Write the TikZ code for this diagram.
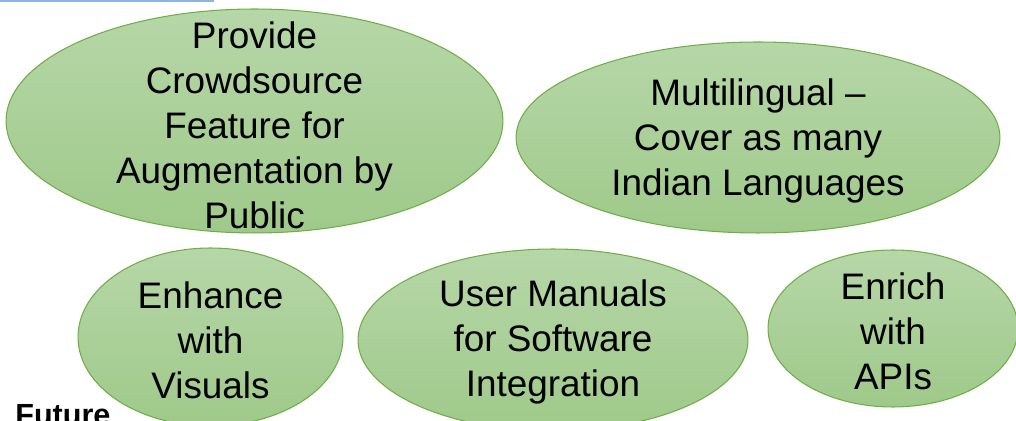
\documentclass[tikz,border=0pt]{standalone}
\usepackage{fontspec}
\setmainfont{Liberation Sans}

\definecolor{leafTop}{HTML}{B6D7A8}
\definecolor{leafBot}{HTML}{9FC98A}
\definecolor{leafLine}{HTML}{70AD47}
\definecolor{ruleBlue}{HTML}{8DB3E2}

\begin{document}
\begin{tikzpicture}[x=0.02cm,y=-0.02cm,
		blob/.style={draw=leafLine,line width=0.6pt,top color=leafTop,bottom color=leafBot},
		idea/.style={inner sep=0pt,align=center,font=\fontsize{21}{25.6}\selectfont}]
		\useasboundingbox (0,0) rectangle (1016,421);
		\draw[ruleBlue,line width=1.2pt] (0,1) -- (214,1);
		% upper row
		\draw[blob] (254.5,121) ellipse [x radius=4.97cm,y radius=2.24cm];
		\draw[blob] (758,137.5) ellipse [x radius=4.84cm,y radius=1.91cm];
		\node[idea] (crowd) at (254.5,125) {Provide\\Crowdsource\\Feature for\\Augmentation by\\Public};
		\node[idea] (multi) at (758,141) {Multilingual --\\Cover as many\\Indian Languages};
		% lower row
		\draw[blob] (210.5,337) ellipse [x radius=2.65cm,y radius=1.78cm];
		\draw[blob] (553,340) ellipse [x radius=3.9cm,y radius=1.82cm];
		\draw[blob] (893,328.5) ellipse [x radius=2.5cm,y radius=1.57cm];
		\node[idea] (visual) at (210.5,340) {Enhance\\with\\Visuals};
		\node[idea] (manual) at (553,342) {User Manuals\\for Software\\Integration};
		\node[idea] (api) at (893,331) {Enrich\\with\\APIs};
		\node[anchor=base west,inner sep=0pt,font=\fontsize{17.4}{20}\selectfont\bfseries] (future) at (15,425) {Future};
	\end{tikzpicture}
\end{document}
